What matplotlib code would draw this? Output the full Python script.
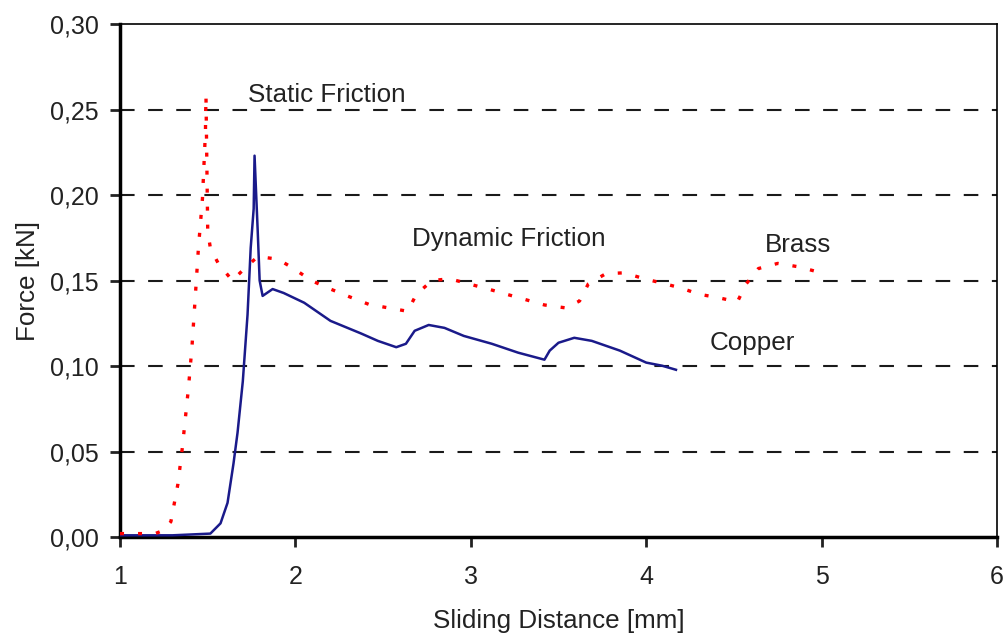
import matplotlib.pyplot as plt
import numpy as np

# brass (red dotted)
brass_x = [1.00, 1.10, 1.20, 1.25, 1.29, 1.33, 1.355, 1.39, 1.41, 1.43, 1.447, 1.47, 1.487, 1.49,
           1.50, 1.515, 1.56, 1.64, 1.70, 1.785, 1.90, 1.99, 2.09, 2.20, 2.32, 2.42, 2.53, 2.64,
           2.69, 2.78, 2.88, 2.99, 3.10, 3.22, 3.32, 3.42, 3.54, 3.62, 3.67, 3.77, 3.875, 3.99,
           4.09, 4.20, 4.30, 4.41, 4.52, 4.57, 4.64, 4.75, 4.87, 4.98]
brass_y = [0.002, 0.002, 0.002, 0.004, 0.009, 0.031, 0.052, 0.087, 0.111, 0.142, 0.169, 0.198, 0.237, 0.258,
           0.179, 0.169, 0.160, 0.150, 0.156, 0.164, 0.1625, 0.157, 0.150, 0.145, 0.140, 0.136, 0.134, 0.132,
           0.142, 0.150, 0.151, 0.148, 0.145, 0.1415, 0.1386, 0.1357, 0.134, 0.138, 0.148, 0.154, 0.1545, 0.151,
           0.1485, 0.1456, 0.142, 0.140, 0.1375, 0.148, 0.157, 0.160, 0.158, 0.155]

# copper (blue solid)
copper_x = [1.00, 1.30, 1.515, 1.573, 1.613, 1.647, 1.67, 1.70, 1.727, 1.745, 1.762, 1.767, 1.785,
            1.796, 1.813, 1.87, 1.933, 2.05, 2.20, 2.375, 2.47, 2.575, 2.63, 2.68, 2.76, 2.85,
            2.96, 3.12, 3.27, 3.42, 3.45, 3.50, 3.59, 3.69, 3.85, 4.00, 4.09, 4.17]
copper_y = [0.001, 0.001, 0.002, 0.008, 0.020, 0.043, 0.061, 0.091, 0.130, 0.169, 0.192, 0.223, 0.179,
            0.150, 0.141, 0.145, 0.1427, 0.137, 0.1264, 0.119, 0.1147, 0.111, 0.113, 0.1206, 0.124, 0.1223,
            0.1176, 0.113, 0.1078, 0.1037, 0.109, 0.1136, 0.1165, 0.1147, 0.109, 0.102, 0.1002, 0.0978]

x_ticks = [1, 2, 3, 4, 5, 6]
y_ticks = [0.00, 0.05, 0.10, 0.15, 0.20, 0.25, 0.30]

plt.rcParams['font.family'] = ['Liberation Sans', 'DejaVu Sans']

fig = plt.figure(figsize=(10.07, 6.35), dpi=100)
ax = fig.add_axes([0.1192, 0.1543, 0.8708, 0.8079])

# dashed horizontal grid lines
for g in y_ticks[1:-1]:
    ax.axhline(g, color='#1a1a1a', lw=1.5, dashes=(7, 6.5), zorder=1)

ax.plot(copper_x, copper_y, color='#1a1a8a', lw=1.8, zorder=3)
ax.plot(brass_x, brass_y, color='#ff0000', lw=2.4, dashes=(1.2, 4.2), zorder=4)

ax.set_xlim(1, 6)
ax.set_ylim(0, 0.30)
ax.set_xticks(x_ticks)
ax.set_yticks(y_ticks)
ax.set_xticklabels([str(t) for t in x_ticks])
ax.set_yticklabels([('%.2f' % t).replace('.', ',') for t in y_ticks])
ax.tick_params(direction='out', length=7.5, width=2, labelsize=18, colors='#222222')
ax.tick_params(axis='x', pad=13)
ax.tick_params(axis='y', pad=8)

for s in ['left', 'bottom']:
    ax.spines[s].set_linewidth(2.5)
for s in ['top', 'right']:
    ax.spines[s].set_linewidth(1.2)

ax.set_xlabel('Sliding Distance [mm]', fontsize=18.7, color='#222222', labelpad=14)
ax.set_ylabel('Force [kN]', fontsize=18.7, color='#222222', labelpad=7)

# annotations
ax.text(1.727, 0.2586, 'Static Friction', fontsize=18.7, va='center', color='#222222')
ax.text(2.667, 0.174, 'Dynamic Friction', fontsize=18.7, va='center', color='#222222')
ax.text(4.677, 0.171, 'Brass', fontsize=18.7, va='center', color='#222222')
ax.text(4.36, 0.1136, 'Copper', fontsize=18.7, va='center', color='#222222')

fig.savefig('out.png', dpi=100)
